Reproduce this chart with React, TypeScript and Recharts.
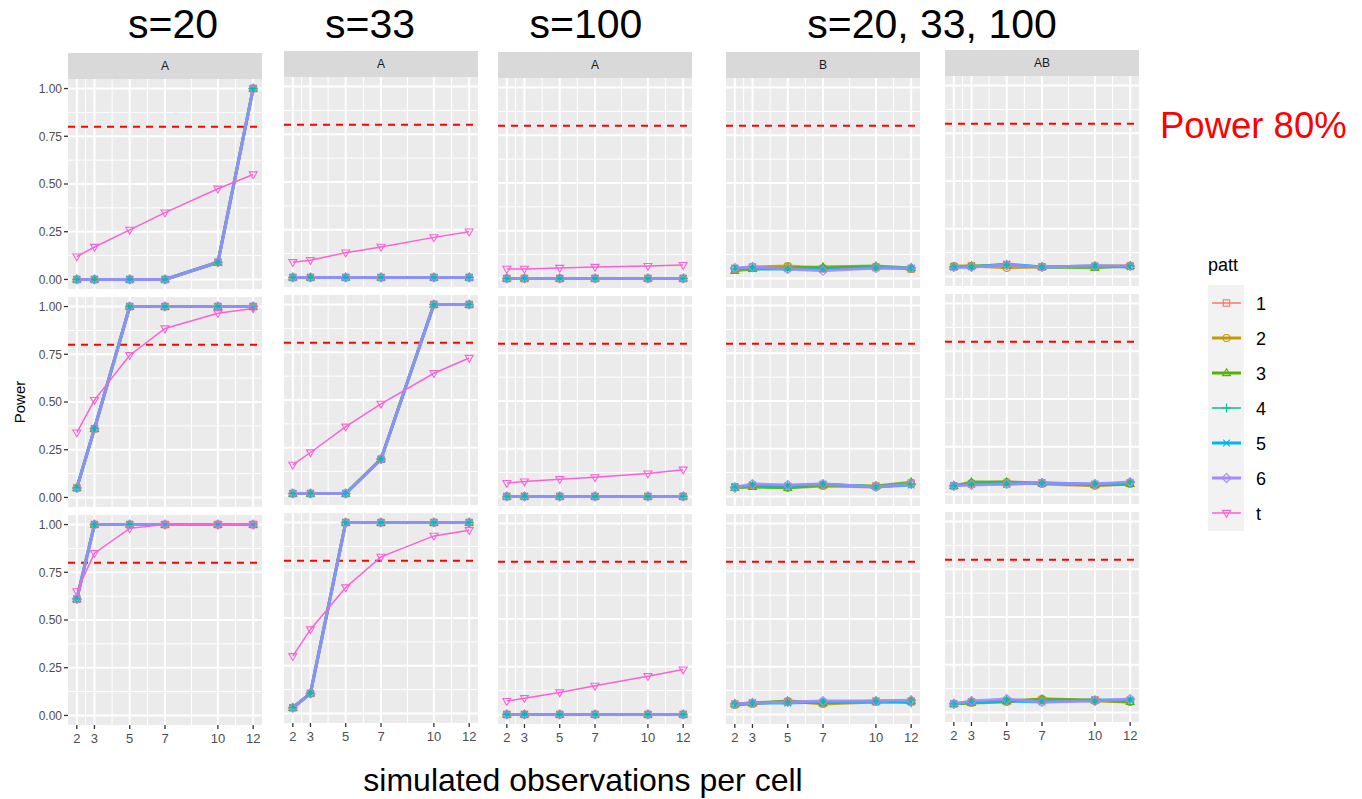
import React from "react";
import {
  LineChart,
  Line,
  XAxis,
  YAxis,
  CartesianGrid,
  ReferenceLine,
} from "recharts";

const FONT = "'Liberation Sans', Arial, sans-serif";

const X = [2, 3, 5, 7, 10, 12];
const X_MINOR = [2.5, 4, 6, 8.5, 11];
const Y_TICKS = [0, 0.25, 0.5, 0.75, 1];
const Y_MINOR = [0.125, 0.375, 0.625, 0.875];
const TARGET = 0.8;

const PATT = ["1", "2", "3", "4", "5", "6", "t"];
const COLORS = ["#F8766D", "#C49A00", "#53B400", "#00C094", "#00B6EB", "#A58AFF", "#FB61D7"];
const WIDTHS = [1.5, 3, 3, 1.5, 3, 3, 1.5];
const SHAPES = ["square", "circle", "triangle", "plus", "cross", "diamond", "triangleDown"];

// factor A: patterns 1-6 give the same curve, t is the t-test
const A20_R1 = [0, 0, 0, 0, 0.09, 1];
const A20_R1_T = [0.12, 0.17, 0.26, 0.35, 0.475, 0.55];
const A20_R2 = [0.05, 0.36, 1, 1, 1, 1];
const A20_R2_T = [0.34, 0.51, 0.745, 0.885, 0.965, 0.99];
const A20_R3 = [0.61, 1, 1, 1, 1, 1];
const A20_R3_T = [0.65, 0.85, 0.98, 1, 1, 1];

const A33_R1 = [0, 0, 0, 0, 0, 0];
const A33_R1_T = [0.08, 0.09, 0.13, 0.16, 0.21, 0.24];
const A33_R2 = [0.01, 0.01, 0.01, 0.19, 1, 1];
const A33_R2_T = [0.16, 0.225, 0.36, 0.48, 0.64, 0.72];
const A33_R3 = [0.03, 0.105, 1, 1, 1, 1];
const A33_R3_T = [0.3, 0.44, 0.66, 0.82, 0.93, 0.96];

const A100_R1 = [0, 0, 0, 0, 0, 0];
const A100_R1_T = [0.05, 0.05, 0.055, 0.06, 0.065, 0.07];
const A100_R2 = [0, 0, 0, 0, 0, 0];
const A100_R2_T = [0.07, 0.078, 0.09, 0.1, 0.12, 0.14];
const A100_R3 = [0, 0, 0, 0, 0, 0];
const A100_R3_T = [0.07, 0.085, 0.115, 0.15, 0.2, 0.235];

// factor B and interaction AB, one row per pattern 1-6
const B_R1 = [
  [0.05, 0.06, 0.06, 0.05, 0.06, 0.05],
  [0.05, 0.06, 0.065, 0.055, 0.06, 0.05],
  [0.04, 0.05, 0.055, 0.06, 0.065, 0.055],
  [0.05, 0.055, 0.05, 0.055, 0.06, 0.055],
  [0.055, 0.05, 0.05, 0.05, 0.055, 0.055],
  [0.055, 0.06, 0.05, 0.04, 0.055, 0.055],
];
const B_R2 = [
  [0.05, 0.055, 0.05, 0.06, 0.055, 0.07],
  [0.05, 0.055, 0.045, 0.055, 0.05, 0.065],
  [0.045, 0.05, 0.045, 0.06, 0.055, 0.075],
  [0.05, 0.06, 0.055, 0.065, 0.055, 0.065],
  [0.05, 0.06, 0.055, 0.065, 0.05, 0.06],
  [0.045, 0.065, 0.06, 0.065, 0.05, 0.065],
];
const B_R3 = [
  [0.055, 0.06, 0.065, 0.06, 0.07, 0.07],
  [0.05, 0.055, 0.07, 0.055, 0.065, 0.065],
  [0.055, 0.06, 0.07, 0.06, 0.07, 0.07],
  [0.055, 0.065, 0.065, 0.065, 0.07, 0.06],
  [0.05, 0.06, 0.06, 0.065, 0.065, 0.065],
  [0.055, 0.06, 0.065, 0.07, 0.07, 0.075],
];
const AB_R1 = [
  [0.05, 0.055, 0.06, 0.05, 0.05, 0.055],
  [0.055, 0.055, 0.045, 0.05, 0.055, 0.055],
  [0.05, 0.055, 0.06, 0.05, 0.045, 0.055],
  [0.05, 0.05, 0.06, 0.05, 0.05, 0.055],
  [0.05, 0.05, 0.065, 0.05, 0.055, 0.05],
  [0.05, 0.05, 0.06, 0.05, 0.055, 0.055],
];
const AB_R2 = [
  [0.045, 0.055, 0.055, 0.06, 0.05, 0.06],
  [0.045, 0.06, 0.065, 0.055, 0.045, 0.055],
  [0.045, 0.065, 0.065, 0.06, 0.05, 0.055],
  [0.045, 0.055, 0.06, 0.06, 0.055, 0.065],
  [0.045, 0.055, 0.055, 0.06, 0.055, 0.06],
  [0.045, 0.05, 0.055, 0.06, 0.055, 0.065],
];
const AB_R3 = [
  [0.045, 0.055, 0.06, 0.065, 0.065, 0.06],
  [0.045, 0.05, 0.055, 0.07, 0.06, 0.055],
  [0.045, 0.05, 0.06, 0.07, 0.065, 0.055],
  [0.045, 0.055, 0.065, 0.06, 0.06, 0.065],
  [0.045, 0.055, 0.06, 0.055, 0.065, 0.065],
  [0.045, 0.06, 0.07, 0.055, 0.06, 0.07],
];

const TITLES = [
  { text: "s=20", x: 173 },
  { text: "s=33", x: 370 },
  { text: "s=100", x: 586 },
  { text: "s=20, 33, 100", x: 932 },
];

type Row = { patt?: number[]; t?: number[]; series?: number[][] };
type Col = { left: number; top: number; strip: string; rows: Row[] };

const COLS: Col[] = [
  {
    left: 68, top: 79, strip: "A",
    rows: [
      { patt: A20_R1, t: A20_R1_T },
      { patt: A20_R2, t: A20_R2_T },
      { patt: A20_R3, t: A20_R3_T },
    ],
  },
  {
    left: 284, top: 77, strip: "A",
    rows: [
      { patt: A33_R1, t: A33_R1_T },
      { patt: A33_R2, t: A33_R2_T },
      { patt: A33_R3, t: A33_R3_T },
    ],
  },
  {
    left: 498, top: 78, strip: "A",
    rows: [
      { patt: A100_R1, t: A100_R1_T },
      { patt: A100_R2, t: A100_R2_T },
      { patt: A100_R3, t: A100_R3_T },
    ],
  },
  { left: 726, top: 78, strip: "B", rows: [{ series: B_R1 }, { series: B_R2 }, { series: B_R3 }] },
  { left: 945, top: 76, strip: "AB", rows: [{ series: AB_R1 }, { series: AB_R2 }, { series: AB_R3 }] },
];

const PANEL_W = 194;
const PANEL_H = 210;
const ROW_STEP = 218;
const STRIP_H = 26;

function Marker({ shape, cx, cy, color }: { shape: string; cx: number; cy: number; color: string }) {
  const common = { fill: "none", stroke: color, strokeWidth: 1.1 };
  switch (shape) {
    case "square":
      return <rect x={cx - 3.2} y={cy - 3.2} width={6.4} height={6.4} {...common} />;
    case "circle":
      return <circle cx={cx} cy={cy} r={3.5} {...common} />;
    case "triangle":
      return <polygon points={`${cx},${cy - 4.3} ${cx - 4},${cy + 2.6} ${cx + 4},${cy + 2.6}`} {...common} />;
    case "plus":
      return <path d={`M${cx - 4.4},${cy}H${cx + 4.4}M${cx},${cy - 4.4}V${cy + 4.4}`} {...common} />;
    case "cross":
      return <path d={`M${cx - 3.3},${cy - 3.3}L${cx + 3.3},${cy + 3.3}M${cx - 3.3},${cy + 3.3}L${cx + 3.3},${cy - 3.3}`} {...common} />;
    case "diamond":
      return <polygon points={`${cx},${cy - 4.5} ${cx + 4.5},${cy} ${cx},${cy + 4.5} ${cx - 4.5},${cy}`} {...common} />;
    default:
      return <polygon points={`${cx},${cy + 4.3} ${cx - 4},${cy - 2.6} ${cx + 4},${cy - 2.6}`} {...common} />;
  }
}

function makeDot(i: number) {
  return (p: any) => {
    if (p.cx == null || p.cy == null) return <g key={`e${p.index}`} />;
    return (
      <g key={`d${i}-${p.index}`}>
        <Marker shape={SHAPES[i]} cx={p.cx} cy={p.cy} color={COLORS[i]} />
      </g>
    );
  };
}

function Panel({ col, rowIdx, colIdx }: { col: Col; rowIdx: number; colIdx: number }) {
  const row = col.rows[rowIdx];
  const showY = colIdx === 0;
  const showX = rowIdx === 2;
  const yW = showY ? 40 : 0;
  const xH = showX ? 26 : 0;
  const top = col.top + rowIdx * ROW_STEP;

  const data = X.map((x, i) => {
    const d: Record<string, number> = { x };
    for (let s = 0; s < 6; s++) {
      d[`p${s}`] = row.series ? row.series[s][i] : (row.patt as number[])[i];
    }
    if (row.t) d.p6 = row.t[i];
    return d;
  });
  const count = row.t ? 7 : 6;

  return (
    <div style={{ position: "absolute", left: col.left - yW, top }}>
      <LineChart
        width={PANEL_W + yW}
        height={PANEL_H + xH}
        data={data}
        margin={{ top: 0, right: 0, bottom: 0, left: 0 }}
      >
        <CartesianGrid horizontal={false} vertical={false} fill="#EBEBEB" fillOpacity={1} />
        <XAxis
          type="number"
          dataKey="x"
          domain={[1.5, 12.5]}
          ticks={X}
          interval={0}
          height={xH}
          hide={!showX}
          axisLine={false}
          tick={{ fontSize: 13, fill: "#4D4D4D", fontFamily: FONT }}
          tickLine={{ stroke: "#333333", strokeWidth: 1.3 }}
          tickSize={4}
          tickMargin={5}
        />
        <YAxis
          type="number"
          domain={[-0.05, 1.05]}
          ticks={Y_TICKS}
          interval={0}
          width={yW}
          hide={!showY}
          axisLine={false}
          tick={{ fontSize: 12, fill: "#4D4D4D", fontFamily: FONT }}
          tickLine={{ stroke: "#333333", strokeWidth: 1.3 }}
          tickSize={4}
          tickMargin={2}
          tickFormatter={(v: number) => v.toFixed(2)}
        />
        {Y_MINOR.map((v) => (
          <ReferenceLine key={`ym${v}`} y={v} stroke="#FFFFFF" strokeWidth={1} />
        ))}
        {X_MINOR.map((v) => (
          <ReferenceLine key={`xm${v}`} x={v} stroke="#FFFFFF" strokeWidth={1} />
        ))}
        {Y_TICKS.map((v) => (
          <ReferenceLine key={`yM${v}`} y={v} stroke="#FFFFFF" strokeWidth={2} />
        ))}
        {X.map((v) => (
          <ReferenceLine key={`xM${v}`} x={v} stroke="#FFFFFF" strokeWidth={2} />
        ))}
        <ReferenceLine y={TARGET} stroke="#FF0000" strokeWidth={2} strokeDasharray="7 6" />
        {Array.from({ length: count }, (_, s) => (
          <Line
            key={PATT[s]}
            type="linear"
            dataKey={`p${s}`}
            stroke={COLORS[s]}
            strokeWidth={WIDTHS[s]}
            strokeOpacity={s < 6 ? 0.85 : 1}
            dot={makeDot(s)}
            activeDot={false}
            isAnimationActive={false}
          />
        ))}
      </LineChart>
    </div>
  );
}

function Legend() {
  return (
    <g fontFamily={FONT}>
      <text x={1208} y={271} fontSize={18} fill="#000">patt</text>
      <rect x={1208} y={285} width={36} height={246} fill="#F2F2F2" />
      {PATT.map((p, i) => {
        const cy = 303 + i * 35;
        return (
          <g key={p}>
            <line x1={1212} x2={1241} y1={cy} y2={cy} stroke={COLORS[i]} strokeWidth={WIDTHS[i]} />
            <Marker shape={SHAPES[i]} cx={1226.5} cy={cy} color={COLORS[i]} />
            <text x={1256} y={cy + 6.5} fontSize={18} fill="#000">{p}</text>
          </g>
        );
      })}
    </g>
  );
}

export default function App() {
  return (
    <div style={{ position: "absolute", left: 0, top: 0, width: 1362, height: 799, background: "#fff", fontFamily: FONT }}>
      {COLS.map((col, c) => (
        <div
          key={`s${c}`}
          style={{
            position: "absolute",
            left: col.left,
            top: col.top - STRIP_H,
            width: PANEL_W,
            height: STRIP_H,
            background: "#D9D9D9",
            color: "#1A1A1A",
            fontSize: 12,
            lineHeight: `${STRIP_H}px`,
            textAlign: "center",
          }}
        >
          {col.strip}
        </div>
      ))}
      {COLS.map((col, c) =>
        col.rows.map((_, r) => <Panel key={`p${c}-${r}`} col={col} rowIdx={r} colIdx={c} />)
      )}
      <svg width={1362} height={799} style={{ position: "absolute", left: 0, top: 0, pointerEvents: "none" }}>
        <g fontFamily={FONT}>
          {TITLES.map((t) => (
            <text key={t.text} x={t.x} y={38} fontSize={41} textAnchor="middle" fill="#000">
              {t.text}
            </text>
          ))}
          <text x={1160} y={138} fontSize={36.5} fill="#FF0000">Power 80%</text>
          <text x={583} y={791} fontSize={32} textAnchor="middle" fill="#000">
            simulated observations per cell
          </text>
          <text x={25} y={402} fontSize={15} textAnchor="middle" fill="#000" transform="rotate(-90 25 402)">
            Power
          </text>
        </g>
        <Legend />
      </svg>
    </div>
  );
}
